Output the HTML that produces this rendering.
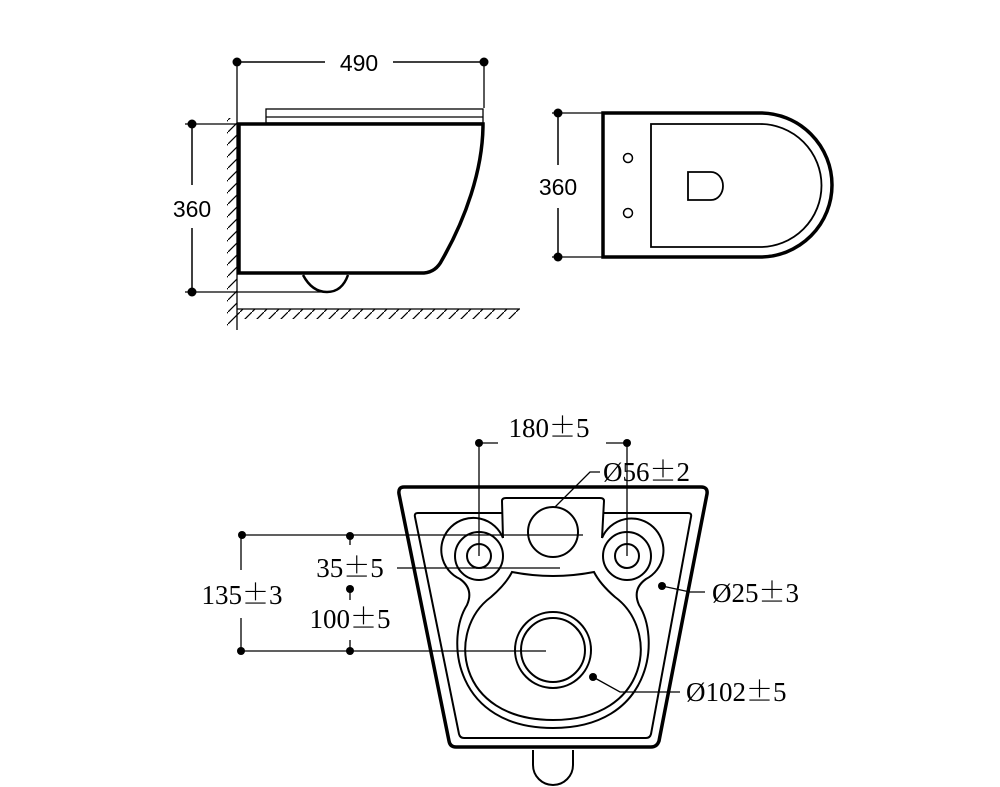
<!DOCTYPE html>
<html><head><meta charset="utf-8"><style>html,body{margin:0;padding:0;background:#fff}svg{display:block}</style></head>
<body>
<svg width="1000" height="787" viewBox="0 0 1000 787" xmlns="http://www.w3.org/2000/svg">
<defs>
<pattern id="hw" width="12" height="12" patternUnits="userSpaceOnUse"><path d="M0,12 L12,0" stroke="#000" stroke-width="1.2"/></pattern>
</defs>
<g fill="none" stroke="#000">
<line x1="237" y1="62" x2="237" y2="330" stroke-width="1.3"/>
<line x1="484" y1="62" x2="484" y2="108" stroke-width="1.3"/>
<line x1="237" y1="62" x2="325" y2="62" stroke-width="1.5"/>
<line x1="393" y1="62" x2="484" y2="62" stroke-width="1.5"/>
<rect x="266" y="109" width="217" height="14" stroke-width="1.3"/>
<line x1="266" y1="117" x2="483" y2="117" stroke-width="1.3"/>
<path d="M239,124 L483,124 C483,170 465,220 442,260 Q436,272 424,273 L239,273 Z" stroke-width="3.5"/>
<path d="M303,275 Q312,292 327,292 Q342,292 348,275" stroke-width="2.5"/>
<line x1="185" y1="124" x2="239" y2="124" stroke-width="1.3"/>
<line x1="185" y1="292" x2="330" y2="292" stroke-width="1.3"/>
<line x1="192" y1="124" x2="192" y2="185" stroke-width="1.5"/>
<line x1="192" y1="228" x2="192" y2="292" stroke-width="1.5"/>
<rect x="227" y="118" width="10" height="208" fill="url(#hw)" stroke="none"/>
<line x1="237" y1="309" x2="520" y2="309" stroke-width="1.3"/>
<rect x="237" y="309" width="283" height="10" fill="url(#hw)" stroke="none"/>
<path d="M603,113 L760,113 A72,72 0 0 1 760,257 L603,257 Z" stroke-width="3.5"/>
<path d="M651,124 L760,124 A61,61 0 0 1 760,247 L651,247 Z" stroke-width="1.8"/>
<circle cx="628" cy="158" r="4.5" stroke-width="1.5"/>
<circle cx="628" cy="213" r="4.5" stroke-width="1.5"/>
<path d="M688,172 L711,172 A12,14 0 0 1 711,200 L688,200 Z" stroke-width="1.8"/>
<line x1="552" y1="113" x2="603" y2="113" stroke-width="1.3"/>
<line x1="552" y1="257" x2="603" y2="257" stroke-width="1.3"/>
<line x1="558" y1="113" x2="558" y2="165" stroke-width="1.5"/>
<line x1="558" y1="208" x2="558" y2="257" stroke-width="1.5"/>
<path d="M404,487 L701,487 Q708,487 707,494 L659,741 Q657,747 651,747 L456,747 Q450,747 449,741 L399,494 Q398,487 404,487 Z" stroke-width="3.5"/>
<path d="M418,513 L502,513 M603,513 L688,513 Q692,513 691,517 L651,734 Q650,738 646,738 L464,738 Q460,738 459,734 L415,517 Q414,513 418,513" stroke-width="2"/>
<path d="M503,538 L502,501 Q502,498 506,498 L600,498 Q604,498 604,501 L602,538" stroke-width="2"/>
<path d="M533,750 L533,765 A20,20 0 0 0 573,765 L573,750" stroke-width="2"/>
<circle cx="553" cy="532" r="25" stroke-width="2"/>
<circle cx="479" cy="556" r="12" stroke-width="2"/>
<circle cx="479" cy="556" r="24" stroke-width="2"/>
<circle cx="627" cy="556" r="12" stroke-width="2"/>
<circle cx="627" cy="556" r="24" stroke-width="2"/>
<path d="M503,538 A32,32 0 1 0 460,579 Q474,589 467,605 C445,640 455,728 553,728 C651,728 661,640 639,605 Q632,589 646,579 A32,32 0 1 0 602,538" stroke-width="2"/>
<path d="M512,572 Q553,580 594,572 Q600,584 615,597 C660,630 650,720 553,720 C456,720 446,630 491,597 Q506,584 512,572 Z" stroke-width="2"/>
<circle cx="553" cy="650" r="38" stroke-width="2"/>
<circle cx="553" cy="650" r="32" stroke-width="2"/>
<line x1="479" y1="443" x2="498" y2="443" stroke-width="1.3"/>
<line x1="606" y1="443" x2="627" y2="443" stroke-width="1.3"/>
<line x1="479" y1="443" x2="479" y2="556" stroke-width="1.3"/>
<line x1="627" y1="443" x2="627" y2="556" stroke-width="1.3"/>
<line x1="241" y1="535" x2="583" y2="535" stroke-width="1.3"/>
<line x1="241" y1="651" x2="546" y2="651" stroke-width="1.3"/>
<line x1="241" y1="535" x2="241" y2="570" stroke-width="1.3"/>
<line x1="241" y1="618" x2="241" y2="651" stroke-width="1.3"/>
<line x1="350" y1="535" x2="350" y2="545" stroke-width="1.3"/>
<line x1="350" y1="589" x2="350" y2="600" stroke-width="1.3"/>
<line x1="350" y1="640" x2="350" y2="651" stroke-width="1.3"/>
<line x1="397" y1="568" x2="560" y2="568" stroke-width="1.3"/>
<path d="M555,507 L590,472 L600,472" stroke-width="1.3"/>
<path d="M662,586 L690,592 L705,592" stroke-width="1.3"/>
<path d="M593,677 L620,692 L680,692" stroke-width="1.3"/>
</g>
<g fill="#000">
<circle cx="237" cy="62" r="4.5"/><circle cx="484" cy="62" r="4.5"/>
<circle cx="192" cy="124" r="4.5"/><circle cx="192" cy="292" r="4.5"/>
<circle cx="558" cy="113" r="4.5"/><circle cx="558" cy="257" r="4.5"/>
<circle cx="479" cy="443" r="4"/><circle cx="627" cy="443" r="4"/>
<circle cx="242" cy="535" r="4"/><circle cx="350" cy="536" r="4"/>
<circle cx="350" cy="589" r="4"/><circle cx="241" cy="651" r="4"/><circle cx="350" cy="651" r="4"/>
<circle cx="662" cy="586" r="4"/><circle cx="593" cy="677" r="4"/>
</g>
<g font-family="Liberation Sans, sans-serif" font-size="23" fill="#000" text-anchor="middle">
<text x="359" y="71">490</text>
<text x="192" y="217">360</text>
<text x="558" y="195">360</text>
</g>
<g font-family="Liberation Serif, 'Noto Serif CJK SC', serif" font-size="27" fill="#000">
<text x="549" y="437" text-anchor="middle">180<tspan font-family="Noto Serif CJK SC, serif">±</tspan>5</text>
<text x="603" y="481">Ø56<tspan font-family="Noto Serif CJK SC, serif">±</tspan>2</text>
<text x="242" y="604" text-anchor="middle">135<tspan font-family="Noto Serif CJK SC, serif">±</tspan>3</text>
<text x="350" y="577" text-anchor="middle">35<tspan font-family="Noto Serif CJK SC, serif">±</tspan>5</text>
<text x="350" y="628" text-anchor="middle">100<tspan font-family="Noto Serif CJK SC, serif">±</tspan>5</text>
<text x="712" y="602">Ø25<tspan font-family="Noto Serif CJK SC, serif">±</tspan>3</text>
<text x="686" y="701">Ø102<tspan font-family="Noto Serif CJK SC, serif">±</tspan>5</text>
</g>
</svg>
</body></html>
